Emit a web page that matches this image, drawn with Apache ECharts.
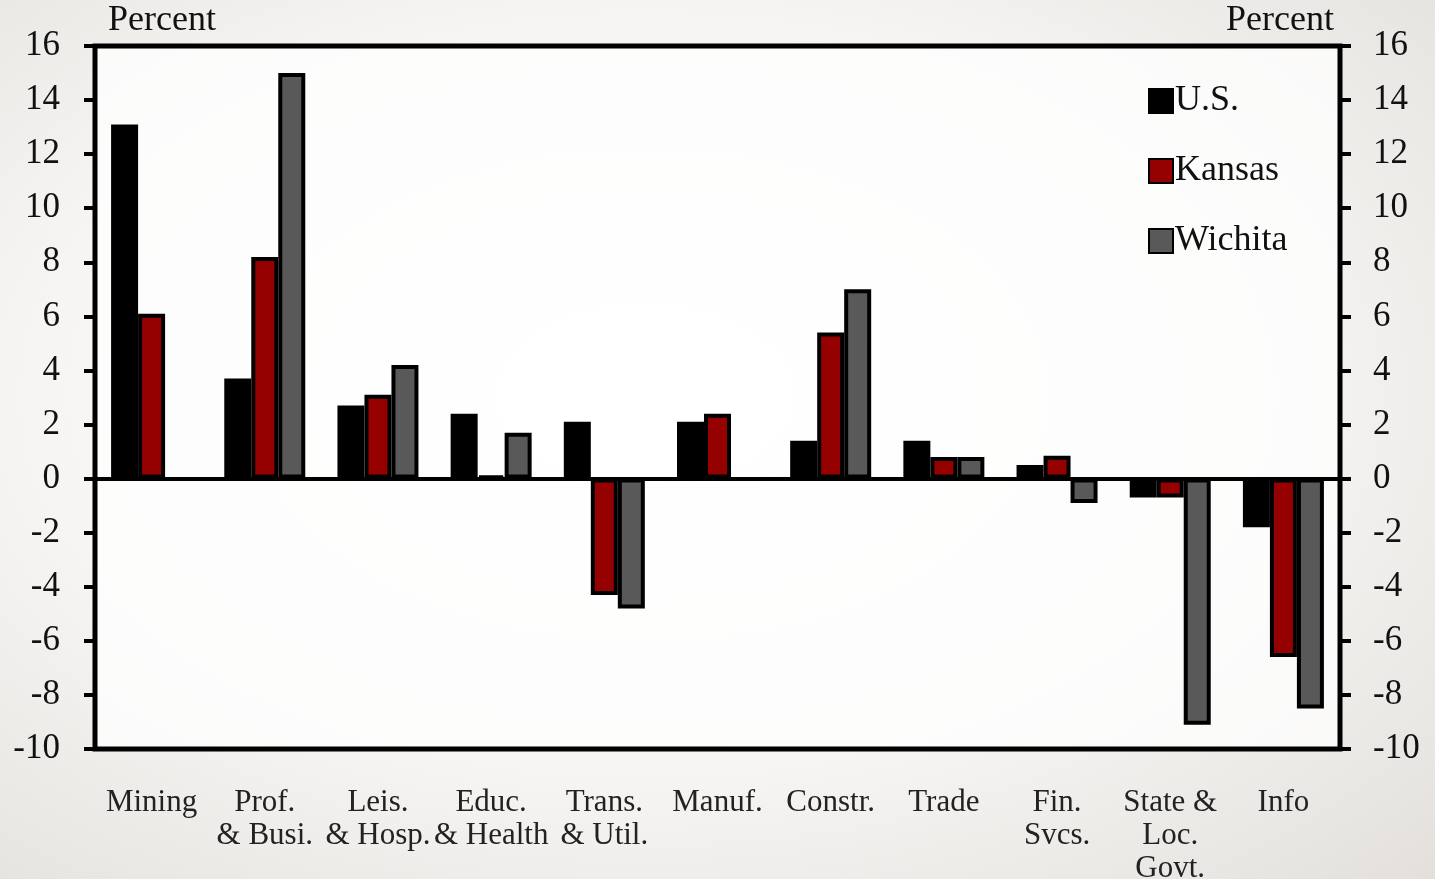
<!DOCTYPE html>
<html>
<head>
<meta charset="utf-8">
<script src="https://cdn.jsdelivr.net/npm/echarts@6/dist/echarts.min.js"></script>
<style>
html,body{margin:0;padding:0;width:1435px;height:879px;overflow:hidden;
background:radial-gradient(ellipse at 45% 45%, #ffffff 0%, #f6f5f3 55%, #e3e0dc 100%);}
#chart{width:1435px;height:879px;}
</style>
</head>
<body>
<div id="chart"></div>
<script>
const categories = ['Mining', 'Prof.\n& Busi.', 'Leis.\n& Hosp.', 'Educ.\n& Health', 'Trans.\n& Util.', 'Manuf.', 'Constr.', 'Trade', 'Fin.\nSvcs.', 'State &\nLoc.\nGovt.', 'Info'];
const usValues      = [13.1, 3.7, 2.7, 2.4, 2.1, 2.1, 1.4, 1.4, 0.5, -0.7, -1.8];
const kansasValues  = [6.1, 8.2, 3.1, 0.1, -4.3, 2.4, 5.4, 0.8, 0.85, -0.7, -6.6];
const wichitaValues = [null, 15.0, 4.2, 1.7, -4.8, null, 7.0, 0.8, -0.9, -9.1, -8.5];
const yMin = -10, yMax = 16, yStep = 2;

const serif = '"Liberation Serif", "DejaVu Serif", serif';
const chart = echarts.init(document.getElementById('chart'), null, {renderer: 'canvas'});

function yAxisDef(pos) {
  return {
    type: 'value', position: pos, min: yMin, max: yMax, interval: yStep,
    splitLine: {show: false},
    axisLine: {show: true, lineStyle: {color: '#000', width: 4}},
    axisTick: {show: true, inside: false, length: 11, lineStyle: {color: '#000', width: 4}},
    axisLabel: {color: '#111', fontFamily: serif, fontSize: 35, margin: pos === 'left' ? 35 : 33}
  };
}

function barSeries(name, data, color, withZero) {
  const s = {
    name: name, type: 'bar', data: data, barWidth: 27, barGap: '0%',
    itemStyle: {color: color, borderColor: '#000', borderWidth: 4},
    emphasis: {disabled: true}
  };
  if (withZero) {
    s.markLine = {
      silent: true, symbol: 'none', label: {show: false},
      lineStyle: {color: '#000', width: 4, type: 'solid'},
      data: [{yAxis: 0}]
    };
  }
  return s;
}

chart.setOption({
  animation: false,
  backgroundColor: 'transparent',
  grid: {left: 95, right: 95, top: 46, bottom: 130, show: true, outerBoundsMode: 'none', containLabel: false,
         borderColor: '#000', borderWidth: 5, backgroundColor: 'rgba(255,255,255,0.75)'},
  legend: {
    orient: 'vertical', left: 1143, top: 78, itemWidth: 24, itemHeight: 24, itemGap: 34,
    icon: 'rect',
    textStyle: {fontFamily: serif, fontSize: 36, color: '#111', lineHeight: 36, padding: [0,0,0,-3]},
    data: ['U.S.', 'Kansas', 'Wichita']
  },
  xAxis: {
    type: 'category', data: categories, position: 'bottom',
    axisLine: {show: false, onZero: false},
    axisTick: {show: false},
    axisLabel: {interval: 0, color: '#222', fontFamily: serif, fontSize: 31, lineHeight: 33, margin: 37, align: 'center'}
  },
  yAxis: [yAxisDef('left'), yAxisDef('right')],
  graphic: [
    {type: 'text', left: 108, top: 3, style: {text: 'Percent', font: '36px ' + serif, fill: '#111'}},
    {type: 'text', right: 101, top: 3, style: {text: 'Percent', font: '36px ' + serif, fill: '#111'}}
  ],
  series: [
    barSeries('U.S.', usValues, '#000000', false),
    barSeries('Kansas', kansasValues, '#950000', false),
    barSeries('Wichita', wichitaValues, '#595959', true)
  ]
});
</script>
</body>
</html>
